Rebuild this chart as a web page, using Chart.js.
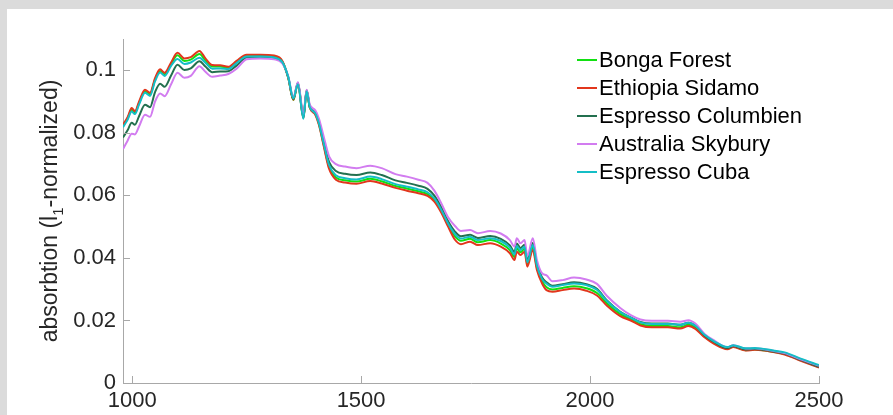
<!DOCTYPE html>
<html>
<head>
<meta charset="utf-8">
<script src="https://cdn.jsdelivr.net/npm/chart.js@4.4.1/dist/chart.umd.min.js"></script>
<style>
  html, body { margin: 0; padding: 0; background: #dbdbdb; }
  body { width: 893px; height: 415px; overflow: hidden; position: relative; }
  #panel { position: absolute; left: 7px; top: 9px; width: 886px; height: 406px; background: #fff; }
  canvas { display: block; }
</style>
</head>
<body>
<div id="panel"><canvas id="spectra" width="886" height="406"></canvas></div>
<script>
// wavelength (nm)
const wavelengths = [980, 990, 999, 1006, 1015, 1028, 1039, 1050, 1061, 1071, 1085, 1099, 1114, 1128, 1147,
  1160, 1175, 1192, 1210, 1228, 1250, 1280, 1310, 1328, 1341, 1352, 1362, 1374, 1381, 1388,
  1400, 1408, 1418, 1430, 1445, 1465, 1490, 1520, 1545, 1575, 1600, 1625, 1645, 1660, 1675,
  1690, 1705, 1718, 1738, 1755, 1782, 1805, 1825, 1835, 1840, 1848, 1857, 1863, 1875, 1884,
  1895, 1905, 1918, 1940, 1965, 1992, 2015, 2037, 2066, 2090, 2110, 2135, 2170, 2197, 2215,
  2230, 2250, 2270, 2300, 2313, 2340, 2360, 2400, 2425, 2460, 2500];

const bongaForest = [.0822, .0846, .0874, .0865, .0895, .0933, .0923, .0970, .0998, .0987, .1020, .1048, .1030, .1034, .1052,
  .1031, .1012, .1012, .1008, .1027, .1047, .1047, .1044, .1028, .0975, .0905, .0958, .0848, .0935, .0880,
  .0860, .0828, .0764, .0692, .0657, .0648, .0644, .0653, .0645, .0630, .0622, .0613, .0604, .0585, .0550,
  .0505, .0469, .0455, .0461, .0450, .0457, .0446, .0425, .0403, .0430, .0418, .0429, .0380, .0434, .0368,
  .0326, .0306, .0299, .0304, .0309, .0303, .0288, .0254, .0220, .0203, .0188, .0182, .0182, .0178, .0186,
  .0177, .0149, .0129, .0110, .0117, .0105, .0107, .0100, .0093, .0073, .0051];

const ethiopiaSidamo = [.0826, .0850, .0879, .0869, .0900, .0938, .0928, .0975, .1003, .0992, .1025, .1056, .1038, .1042, .1062,
  .1038, .1017, .1016, .1011, .1030, .1050, .1050, .1047, .1030, .0975, .0906, .0958, .0847, .0935, .0880,
  .0858, .0825, .0760, .0685, .0650, .0641, .0637, .0646, .0638, .0624, .0615, .0607, .0598, .0580, .0545,
  .0500, .0458, .0444, .0452, .0441, .0447, .0436, .0415, .0393, .0420, .0409, .0420, .0372, .0425, .0361,
  .0319, .0297, .0292, .0297, .0302, .0295, .0280, .0247, .0214, .0199, .0184, .0178, .0178, .0174, .0182,
  .0173, .0146, .0126, .0108, .0115, .0104, .0106, .0099, .0091, .0071, .0049];

const espressoColumbien = [.0785, .0808, .0832, .0826, .0853, .0890, .0882, .0930, .0957, .0947, .0983, .1018, .1001, .1006, .1029,
  .1012, .0994, .0996, .0997, .1015, .1041, .1043, .1040, .1025, .0977, .0908, .0960, .0852, .0936, .0884,
  .0864, .0834, .0773, .0707, .0678, .0669, .0665, .0673, .0665, .0648, .0640, .0631, .0621, .0599, .0562,
  .0517, .0484, .0469, .0474, .0464, .0470, .0461, .0440, .0419, .0446, .0432, .0442, .0392, .0448, .0380,
  .0338, .0322, .0311, .0316, .0322, .0316, .0301, .0264, .0228, .0209, .0195, .0190, .0190, .0186, .0193,
  .0183, .0152, .0132, .0112, .0118, .0107, .0109, .0101, .0094, .0074, .0052];

const australiaSkybury = [.0748, .0775, .0797, .0795, .0820, .0858, .0851, .0900, .0926, .0917, .0955, .0992, .0976, .0982, .1013,
  .0995, .0979, .0983, .0988, .1005, .1035, .1038, .1035, .1022, .0980, .0912, .0962, .0860, .0938, .0890,
  .0872, .0845, .0790, .0725, .0700, .0692, .0687, .0695, .0687, .0668, .0660, .0650, .0640, .0615, .0575,
  .0530, .0502, .0486, .0489, .0479, .0486, .0478, .0457, .0436, .0463, .0447, .0457, .0406, .0463, .0393,
  .0351, .0344, .0325, .0329, .0337, .0331, .0317, .0278, .0240, .0216, .0203, .0199, .0199, .0196, .0201,
  .0190, .0157, .0137, .0115, .0121, .0110, .0111, .0103, .0096, .0076, .0055];

const espressoCuba = [.0818, .0842, .0868, .0860, .0890, .0928, .0918, .0965, .0993, .0982, .1014, .1036, .1020, .1025, .1040,
  .1024, .1005, .1006, .1004, .1023, .1044, .1044, .1041, .1026, .0978, .0910, .0955, .0845, .0933, .0882,
  .0862, .0830, .0768, .0697, .0664, .0655, .0651, .0660, .0652, .0636, .0628, .0619, .0610, .0590, .0554,
  .0510, .0476, .0462, .0468, .0457, .0463, .0454, .0433, .0411, .0438, .0425, .0436, .0386, .0441, .0375,
  .0333, .0318, .0308, .0313, .0318, .0313, .0298, .0262, .0227, .0208, .0194, .0189, .0189, .0186, .0193,
  .0183, .0154, .0134, .0115, .0121, .0111, .0112, .0104, .0098, .0078, .0057];

const seriesNames = ['Bonga Forest', 'Ethiopia Sidamo', 'Espresso Columbien', 'Australia Skybury', 'Espresso Cuba'];
const seriesValues = [bongaForest, ethiopiaSidamo, espressoColumbien, australiaSkybury, espressoCuba];
const seriesColors = ['#12e012', '#e2361c', '#23704f', '#d27cf0', '#14bec6'];

const xTicks = [1000, 1500, 2000, 2500];
const xTickLabels = ['1000', '1500', '2000', '2500'];
const yTicks = [0, 0.02, 0.04, 0.06, 0.08, 0.1];
const yTickLabels = ['0', '0.02', '0.04', '0.06', '0.08', '0.1'];

const FONT = '"Liberation Sans", Arial, sans-serif';
const AXIS_GRAY = '#a8a8a8';

// inward tick marks, y label with subscript, legend inside the axes
const decor = {
  id: 'decor',
  afterDraw(chart) {
    const { ctx, chartArea: a, scales: { x, y } } = chart;
    ctx.save();
    ctx.strokeStyle = AXIS_GRAY;
    ctx.lineWidth = 1;
    ctx.beginPath();
    x.ticks.forEach(t => {
      const px = Math.round(x.getPixelForValue(t.value)) + 0.5;
      ctx.moveTo(px, a.bottom);
      ctx.lineTo(px, a.bottom - 7);
    });
    y.ticks.forEach(t => {
      const py = Math.round(y.getPixelForValue(t.value)) + 0.5;
      ctx.moveTo(a.left, py);
      ctx.lineTo(a.left + 7, py);
    });
    ctx.stroke();

    // y axis title
    const parts = [
      { text: 'absorbtion (l', size: 23, dy: 0 },
      { text: '1', size: 15, dy: 6 },
      { text: '-normalized)', size: 23, dy: 0 }
    ];
    let total = 0;
    parts.forEach(p => { ctx.font = p.size + 'px ' + FONT; p.w = ctx.measureText(p.text).width; total += p.w; });
    ctx.translate(50, (a.top + a.bottom) / 2);
    ctx.rotate(-Math.PI / 2);
    ctx.fillStyle = '#262626';
    ctx.textBaseline = 'alphabetic';
    ctx.textAlign = 'left';
    let cx = -total / 2;
    parts.forEach(p => {
      ctx.font = p.size + 'px ' + FONT;
      ctx.fillText(p.text, cx, p.dy);
      cx += p.w;
    });
    ctx.setTransform(1, 0, 0, 1, 0, 0);

    // legend
    ctx.font = '22px ' + FONT;
    ctx.textBaseline = 'middle';
    ctx.lineWidth = 2;
    chart.data.datasets.forEach((ds, i) => {
      const ly = 51 + i * 28;
      ctx.strokeStyle = ds.borderColor;
      ctx.beginPath();
      ctx.moveTo(570, ly);
      ctx.lineTo(590, ly);
      ctx.stroke();
      ctx.fillStyle = '#000';
      ctx.fillText(ds.label, 592, ly + 1);
    });
    ctx.restore();
  }
};

const datasets = seriesNames.map((name, i) => ({
  label: name,
  data: seriesValues[i].map((v, j) => ({ x: wavelengths[j], y: v })),
  borderColor: seriesColors[i],
  borderWidth: 2,
  pointRadius: 0,
  fill: false,
  cubicInterpolationMode: 'monotone',
  order: seriesNames.length - 1 - i
}));

new Chart(document.getElementById('spectra').getContext('2d'), {
  type: 'line',
  data: { datasets },
  plugins: [decor],
  options: {
    responsive: false,
    animation: false,
    layout: { padding: { top: 30, right: 74, left: 0, bottom: 0 } },
    plugins: { legend: { display: false }, tooltip: { enabled: false } },
    scales: {
      x: {
        type: 'linear',
        min: 980,
        max: 2500,
        afterBuildTicks: s => { s.ticks = xTicks.map(v => ({ value: v })); },
        afterFit: s => { s.height = 32; },
        grid: { display: false, drawTicks: false },
        border: { display: true, color: AXIS_GRAY, width: 1 },
        ticks: {
          color: '#262626',
          font: { family: FONT, size: 22 },
          padding: 5,
          maxRotation: 0,
          callback: v => xTickLabels[xTicks.indexOf(v)]
        }
      },
      y: {
        type: 'linear',
        min: 0,
        max: 0.11,
        afterBuildTicks: s => { s.ticks = yTicks.map(v => ({ value: v })); },
        afterFit: s => { s.width = 116; },
        grid: { display: false, drawTicks: false },
        border: { display: true, color: AXIS_GRAY, width: 1 },
        ticks: {
          color: '#262626',
          font: { family: FONT, size: 22 },
          padding: 7,
          callback: v => yTickLabels[yTicks.indexOf(v)]
        }
      }
    }
  }
});
</script>
</body>
</html>
